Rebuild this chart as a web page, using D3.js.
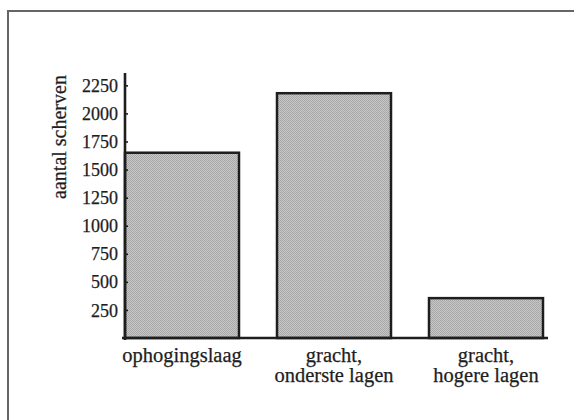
<!DOCTYPE html>
<html>
<head>
<meta charset="utf-8">
<script src="https://cdn.jsdelivr.net/npm/d3@7"></script>
<style>
  html, body { margin: 0; padding: 0; background: #fff; }
  svg { display: block; }
  text { font-family: "Liberation Serif", "Times New Roman", serif; fill: #1e1e1e; stroke: #1e1e1e; stroke-width: 0.25px; }
</style>
</head>
<body>
<svg id="chart" width="574" height="420"></svg>
<script>
// Number of sherds per find context
const categories = [["ophogingslaag"], ["gracht,", "onderste lagen"], ["gracht,", "hogere lagen"]];
const counts = [1650, 2180, 355];
const yTicks = [250, 500, 750, 1000, 1250, 1500, 1750, 2000, 2250];
const yTitle = "aantal scherven";

const svg = d3.select("#chart");

// Stippled grey fill for the bars
const defs = svg.append("defs");
const pat = defs.append("pattern")
  .attr("id", "stipple").attr("patternUnits", "userSpaceOnUse")
  .attr("width", 2).attr("height", 2);
pat.append("rect").attr("width", 2).attr("height", 2).attr("fill", "#c8c8c8");
pat.append("rect").attr("width", 1).attr("height", 1).attr("fill", "#a4a4a4");
pat.append("rect").attr("x", 1).attr("y", 1).attr("width", 1).attr("height", 1).attr("fill", "#aaaaaa");

// Surrounding frame (open on the right and bottom)
svg.append("path")
  .attr("d", "M8,430 V11 H584")
  .attr("fill", "none").attr("stroke", "#666").attr("stroke-width", 2);

const x = d3.scaleBand()
  .domain(d3.range(categories.length))
  .range([125, 543])
  .paddingInner(0.25)
  .paddingOuter(0);

const y = d3.scaleLinear().domain([0, 2360]).range([338, 73]);

// Bars
svg.append("g").selectAll("rect")
  .data(counts)
  .join("rect")
  .attr("x", (d, i) => x(i))
  .attr("y", d => y(d))
  .attr("width", x.bandwidth())
  .attr("height", d => y(0) - y(d))
  .attr("fill", "url(#stipple)")
  .attr("stroke", "#1e1e1e")
  .attr("stroke-width", 2.5);

// Y axis with ticks crossing the axis line
const yAxis = d3.axisLeft(y).tickValues(yTicks).tickSize(5).tickPadding(2).tickFormat(d3.format("d"));
const gy = svg.append("g").attr("transform", "translate(125,0)").call(yAxis);
gy.select(".domain").remove();
gy.selectAll(".tick line").attr("x2", 3).attr("stroke", "#1e1e1e").attr("stroke-width", 1.6);
gy.selectAll(".tick text").attr("font-size", 18).attr("dy", "0.34em");
svg.append("line")
  .attr("x1", 125).attr("x2", 125).attr("y1", y(2360)).attr("y2", y(0) + 2)
  .attr("stroke", "#1e1e1e").attr("stroke-width", 2.6);

// Baseline
svg.append("line")
  .attr("x1", 122).attr("x2", 548).attr("y1", y(0)).attr("y2", y(0))
  .attr("stroke", "#1e1e1e").attr("stroke-width", 2.6);

// Category labels
const lab = svg.append("g").selectAll("text")
  .data(categories)
  .join("text")
  .attr("x", (d, i) => x(i) + x.bandwidth() / 2)
  .attr("y", 362)
  .attr("text-anchor", "middle")
  .attr("font-size", 20.5);
lab.selectAll("tspan")
  .data(d => d)
  .join("tspan")
  .attr("x", function () { return d3.select(this.parentNode).attr("x"); })
  .attr("dy", (d, i) => i === 0 ? 0 : 20)
  .text(d => d);

// Y axis title
svg.append("text")
  .attr("transform", "translate(66,137) rotate(-90)")
  .attr("text-anchor", "middle")
  .attr("font-size", 20)
  .text(yTitle);
</script>
</body>
</html>
